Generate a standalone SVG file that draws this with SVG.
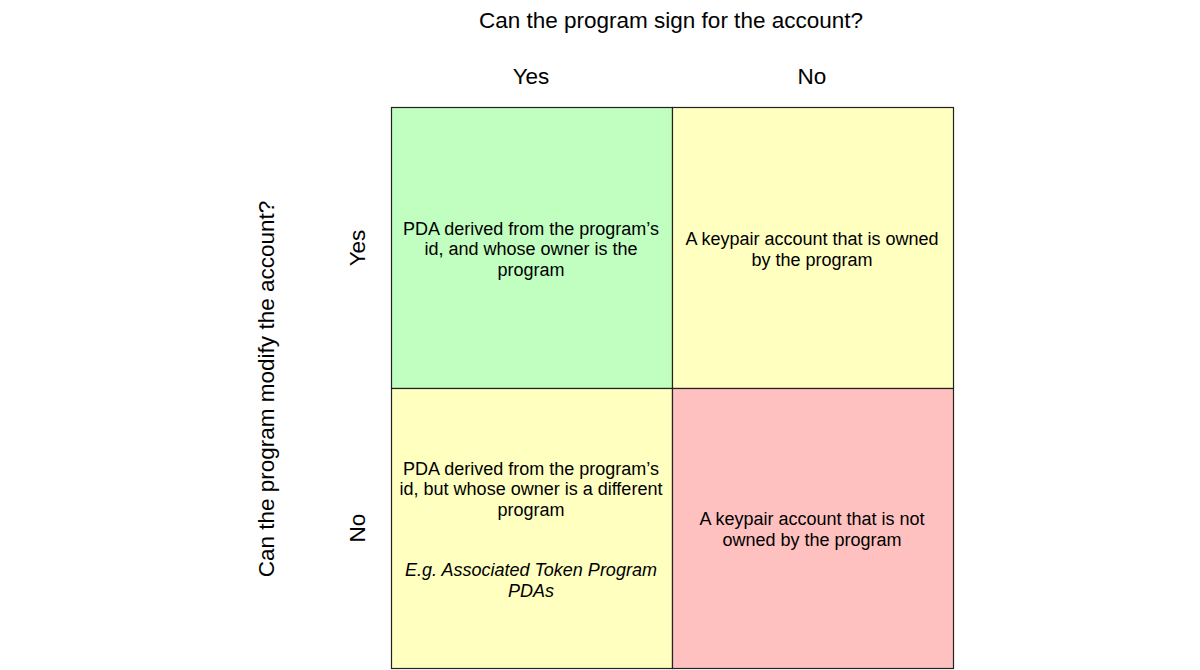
<svg xmlns="http://www.w3.org/2000/svg" width="1200" height="670" viewBox="0 0 1200 670">
  <style>
    text { font-family: "Liberation Sans", Arial, sans-serif; fill: #000; }
    .axis { font-size: 22.5px; text-anchor: middle; }
    .cell-text { font-size: 18px; text-anchor: middle; }
    .it { font-style: italic; }
    .cell { stroke: #222; stroke-width: 1.2; }
  </style>
  <rect width="1200" height="670" fill="#ffffff"/>

  <!-- axis headings -->
  <g id="axis-top">
    <text class="axis" x="671" y="28">Can the program sign for the account?</text>
    <text class="axis" x="531" y="84">Yes</text>
    <text class="axis" x="812" y="84">No</text>
  </g>
  <g id="axis-left">
    <text class="axis" transform="translate(274 389) rotate(-90)">Can the program modify the account?</text>
    <text class="axis" transform="translate(365 248) rotate(-90)">Yes</text>
    <text class="axis" transform="translate(365 528) rotate(-90)">No</text>
  </g>

  <!-- quadrants -->
  <g id="cell-yes-yes">
    <rect class="cell" x="391.5" y="107.5" width="281" height="281" fill="#c0ffc0"/>
    <text class="cell-text" x="531" y="235">PDA derived from the program’s</text>
    <text class="cell-text" x="531" y="255">id, and whose owner is the</text>
    <text class="cell-text" x="531" y="276">program</text>
  </g>
  <g id="cell-no-yes">
    <rect class="cell" x="672.5" y="107.5" width="281" height="281" fill="#ffffc0"/>
    <text class="cell-text" x="812" y="245">A keypair account that is owned</text>
    <text class="cell-text" x="812" y="266">by the program</text>
  </g>
  <g id="cell-yes-no">
    <rect class="cell" x="391.5" y="388.5" width="281" height="280" fill="#ffffc0"/>
    <text class="cell-text" x="531" y="475">PDA derived from the program’s</text>
    <text class="cell-text" x="531" y="495">id, but whose owner is a different</text>
    <text class="cell-text" x="531" y="516">program</text>
    <text class="cell-text it" x="531" y="576">E.g. Associated Token Program</text>
    <text class="cell-text it" x="531" y="597">PDAs</text>
  </g>
  <g id="cell-no-no">
    <rect class="cell" x="672.5" y="388.5" width="281" height="280" fill="#ffc0c0"/>
    <text class="cell-text" x="812" y="525">A keypair account that is not</text>
    <text class="cell-text" x="812" y="546">owned by the program</text>
  </g>

  <g id="connectors"/>
</svg>
